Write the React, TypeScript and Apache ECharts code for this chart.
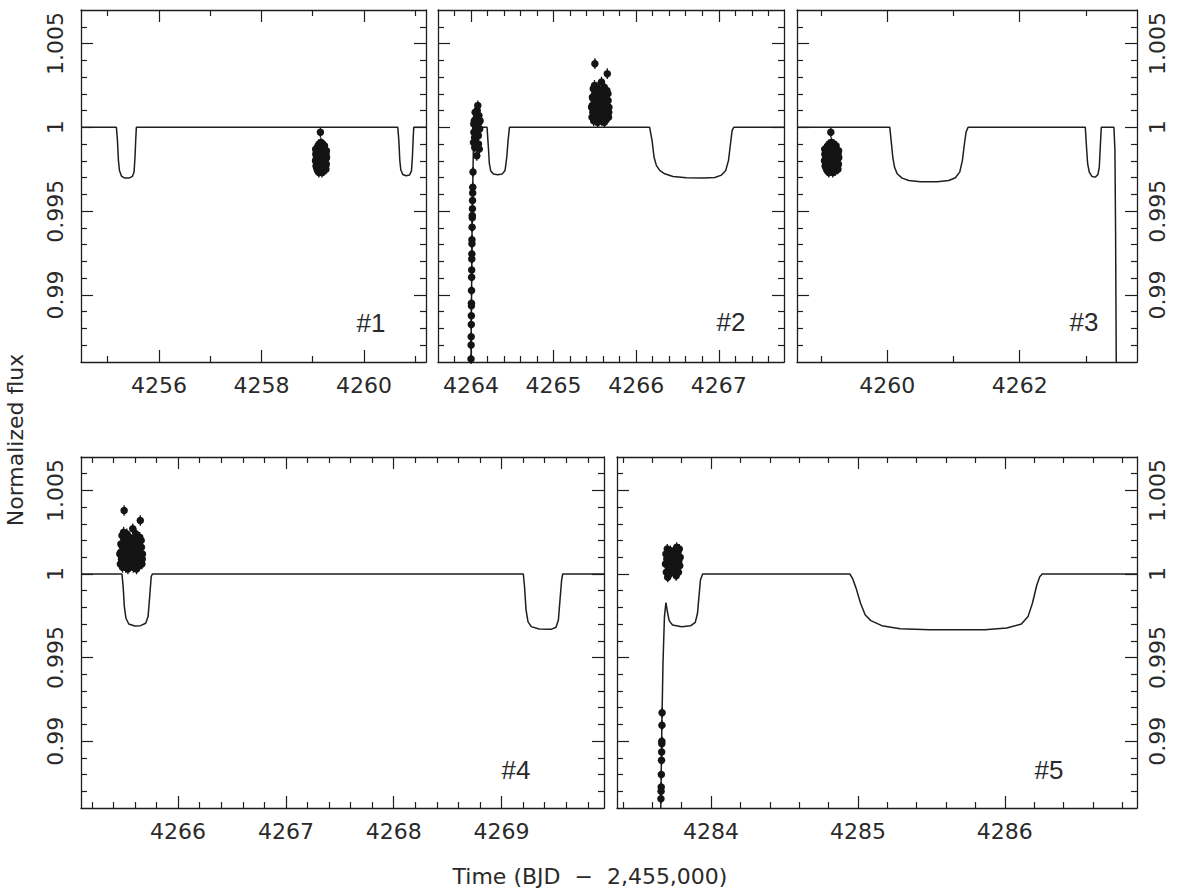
import { useEffect, useRef } from "react";
import * as echarts from "echarts";

// ---------- axis ticks ----------
const FLUX_MIN = 0.986;
const FLUX_MAX = 1.007;
const fluxMajorTicks = [0.99, 0.995, 1, 1.005];
const fluxMinorTicks = [0.987, 0.988, 0.989, 0.991, 0.992, 0.993, 0.994, 0.996, 0.997, 0.998, 0.999, 1.001, 1.002, 1.003, 1.004, 1.006];

const p1TimeTicks = [4256, 4258, 4260];
const p2TimeTicks = [4264, 4265, 4266, 4267];
const p3TimeTicks = [4260, 4262];
const p4TimeTicks = [4266, 4267, 4268, 4269];
const p5TimeTicks = [4284, 4285, 4286];

// ---------- model curves ----------
const model1Time = [4254.48, 4255.171, 4255.191, 4255.210, 4255.230, 4255.269, 4255.333, 4255.417, 4255.482, 4255.515, 4255.534, 4255.547, 4255.560, 4260.660, 4260.680, 4260.699, 4260.718, 4260.757, 4260.822, 4260.887, 4260.926, 4260.945, 4260.958, 4260.971, 4261.21];
const model1Flux = [1, 1, 0.99922, 0.99803, 0.99743, 0.99709, 0.99697, 0.99697, 0.99707, 0.99733, 0.99823, 0.99922, 1, 1, 0.99922, 0.99803, 0.99747, 0.99719, 0.99711, 0.99715, 0.99739, 0.99823, 0.99922, 1, 1];

const model2Time = [4263.9975, 4264.000, 4264.012, 4264.028, 4264.040, 4264.194, 4264.210, 4264.222, 4264.239, 4264.271, 4264.323, 4264.376, 4264.412, 4264.433, 4264.449, 4264.465, 4266.163, 4266.192, 4266.216, 4266.244, 4266.285, 4266.345, 4266.446, 4266.608, 4266.810, 4266.952, 4267.033, 4267.085, 4267.118, 4267.142, 4267.162, 4267.182, 4267.79];
const model2Flux = [0.984, 0.98602, 0.99365, 0.99863, 1, 1, 0.99882, 0.99783, 0.99739, 0.99721, 0.99717, 0.99721, 0.99743, 0.99823, 0.99922, 1, 1, 0.99922, 0.99823, 0.99773, 0.99743, 0.99723, 0.99707, 0.99699, 0.99697, 0.99701, 0.99715, 0.99743, 0.99803, 0.99902, 0.99982, 1, 1];

const model3Time = [4258.64, 4260.040, 4260.060, 4260.085, 4260.111, 4260.151, 4260.226, 4260.327, 4260.503, 4260.754, 4260.930, 4261.030, 4261.095, 4261.136, 4261.166, 4261.191, 4261.221, 4262.990, 4263.005, 4263.025, 4263.050, 4263.090, 4263.141, 4263.181, 4263.201, 4263.216, 4263.231, 4263.422, 4263.437, 4263.447, 4263.457, 4263.460];
const model3Flux = [1, 1, 0.99922, 0.99823, 0.99763, 0.99723, 0.99697, 0.99683, 0.99675, 0.99675, 0.99683, 0.99699, 0.99733, 0.99803, 0.99902, 0.99972, 1, 1, 0.99902, 0.99783, 0.99733, 0.99707, 0.99703, 0.99719, 0.99763, 0.99882, 1, 1, 0.99863, 0.99365, 0.98602, 0.984];

const model4Time = [4265.10, 4265.480, 4265.491, 4265.502, 4265.517, 4265.543, 4265.598, 4265.652, 4265.700, 4265.722, 4265.737, 4265.751, 4265.762, 4269.202, 4269.213, 4269.227, 4269.245, 4269.275, 4269.348, 4269.458, 4269.505, 4269.527, 4269.542, 4269.557, 4269.567, 4269.95];
const model4Flux = [1, 1, 0.99924, 0.99805, 0.99735, 0.99701, 0.99689, 0.99691, 0.99705, 0.99745, 0.99865, 0.99984, 1, 1, 0.99924, 0.99785, 0.99715, 0.99685, 0.99671, 0.99669, 0.99681, 0.99725, 0.99845, 0.99964, 1, 1];

const model5Time = [4283.655, 4283.658, 4283.665, 4283.673, 4283.683, 4283.693, 4283.703, 4283.715, 4283.738, 4283.800, 4283.863, 4283.893, 4283.908, 4283.918, 4283.928, 4283.943, 4284.945, 4284.963, 4284.988, 4285.018, 4285.050, 4285.088, 4285.163, 4285.288, 4285.488, 4285.863, 4286.013, 4286.113, 4286.158, 4286.188, 4286.218, 4286.238, 4286.255, 4286.90];
const model5Flux = [0.984, 0.98600, 0.99068, 0.99466, 0.99745, 0.99829, 0.99775, 0.99721, 0.99695, 0.99685, 0.99691, 0.99711, 0.99765, 0.99865, 0.99964, 1, 1, 0.99974, 0.99914, 0.99825, 0.99755, 0.99721, 0.99691, 0.99673, 0.99667, 0.99667, 0.99677, 0.99701, 0.99745, 0.99825, 0.99934, 0.99984, 1, 1];

// ---------- observations ----------
// cluster near 4259.2 (panels 1 and 3)
const obsATime = [4259.055, 4259.060, 4259.065, 4259.070, 4259.075, 4259.080, 4259.085, 4259.090, 4259.095, 4259.100, 4259.105, 4259.110, 4259.115, 4259.120, 4259.125, 4259.130, 4259.135, 4259.140, 4259.145, 4259.150, 4259.155, 4259.160, 4259.165, 4259.170, 4259.175, 4259.180, 4259.185, 4259.190, 4259.195, 4259.200, 4259.205, 4259.210, 4259.215, 4259.220, 4259.225, 4259.230, 4259.235, 4259.240, 4259.245, 4259.250, 4259.255, 4259.260, 4259.265, 4259.270,
  4259.058, 4259.068, 4259.078, 4259.088, 4259.098, 4259.108, 4259.118, 4259.128, 4259.138, 4259.148, 4259.158, 4259.168, 4259.178, 4259.188, 4259.198, 4259.208, 4259.218, 4259.228, 4259.238, 4259.248, 4259.258, 4259.268];
const obsAFlux = [0.9980, 0.9984, 0.9977, 0.9986, 0.9979, 0.9983, 0.9975, 0.9988, 0.9981, 0.9974, 0.9989, 0.9978, 0.9985, 0.9973, 0.9990, 0.9982, 0.9976, 0.9987, 0.9980, 0.9997, 0.9974, 0.9991, 0.9983, 0.9977, 0.9988, 0.9973, 0.9985, 0.9979, 0.9990, 0.9975, 0.9982, 0.9987, 0.9974, 0.9984, 0.9978, 0.9989, 0.9976, 0.9983, 0.9986, 0.9977, 0.9981, 0.9984, 0.9978, 0.9982,
  0.9987, 0.9981, 0.9976, 0.9983, 0.9986, 0.9980, 0.9982, 0.9978, 0.9984, 0.9979, 0.9986, 0.9981, 0.9984, 0.9976, 0.9982, 0.9979, 0.9988, 0.9981, 0.9979, 0.9984, 0.9975, 0.9986];
const obsAErr = 0.0003;

// cluster near 4265.55 (panels 2 and 4)
const obsBTime = [4265.460, 4265.465, 4265.470, 4265.475, 4265.480, 4265.485, 4265.490, 4265.495, 4265.500, 4265.505, 4265.510, 4265.515, 4265.520, 4265.525, 4265.530, 4265.535, 4265.540, 4265.545, 4265.550, 4265.555, 4265.560, 4265.565, 4265.570, 4265.575, 4265.580, 4265.585, 4265.590, 4265.595, 4265.600, 4265.605, 4265.610, 4265.615, 4265.620, 4265.625, 4265.630, 4265.635, 4265.640, 4265.645, 4265.650, 4265.655, 4265.660, 4265.665, 4265.670,
  4265.468, 4265.478, 4265.488, 4265.498, 4265.508, 4265.518, 4265.528, 4265.538, 4265.548, 4265.558, 4265.568, 4265.578, 4265.588, 4265.598, 4265.608, 4265.618, 4265.628, 4265.638, 4265.648, 4265.658, 4265.668];
const obsBFlux = [1.0012, 1.0006, 1.0018, 1.0009, 1.0023, 1.0004, 1.0014, 1.0025, 1.0038, 1.0008, 1.0019, 1.0004, 1.0015, 1.0024, 1.0010, 1.0003, 1.0017, 1.0007, 1.0022, 1.0012, 1.0005, 1.0019, 1.0009, 1.0014, 1.0027, 1.0004, 1.0021, 1.0011, 1.0006, 1.0018, 1.0024, 1.0003, 1.0013, 1.0020, 1.0008, 1.0015, 1.0005, 1.0022, 1.0032, 1.0010, 1.0016, 1.0006, 1.0012,
  1.0013, 1.0017, 1.0008, 1.0020, 1.0012, 1.0021, 1.0007, 1.0011, 1.0015, 1.0021, 1.0014, 1.0008, 1.0015, 1.0020, 1.0010, 1.0017, 1.0011, 1.0019, 1.0013, 1.0020, 1.0009];
const obsBErr = 0.00032;

// steep egress column at 4264.0 (panel 2)
const obsCTime = [4264.024, 4264.021, 4264.020, 4264.018, 4264.017, 4264.015, 4264.015, 4264.013, 4264.011, 4264.011, 4264.010, 4264.009, 4264.008, 4264.007, 4264.006, 4264.005, 4264.005, 4264.004, 4264.003, 4264.002, 4264.001, 4264.000];
const obsCFlux = [0.99733, 0.99643, 0.99608, 0.99564, 0.99514, 0.99474, 0.99460, 0.99404, 0.99329, 0.99305, 0.99245, 0.99215, 0.99149, 0.99106, 0.99026, 0.98950, 0.98936, 0.98876, 0.98823, 0.98751, 0.98701, 0.98618];
const obsCErr = 0.0003;

// post-egress points near 4264.07 (panel 2)
const obsDTime = [4264.030, 4264.035, 4264.040, 4264.045, 4264.050, 4264.055, 4264.060, 4264.065, 4264.070, 4264.075, 4264.080, 4264.082, 4264.085, 4264.090, 4264.095, 4264.100, 4264.105, 4264.110, 4264.033, 4264.043, 4264.053, 4264.063, 4264.073, 4264.088, 4264.098];
const obsDFlux = [0.9991, 0.9997, 1.0004, 0.9988, 1.0009, 0.9999, 0.9994, 1.0006, 0.9983, 1.0010, 0.9996, 1.0013, 1.0002, 0.9990, 1.0007, 0.9987, 0.9999, 1.0004, 1.0002, 0.9994, 1.0003, 0.9989, 1.0001, 0.9995, 1.0003];
const obsDErr = 0.0003;

// steep column at 4283.66 (panel 5)
const obsETime = [4283.667, 4283.666, 4283.665, 4283.665, 4283.664, 4283.663, 4283.662, 4283.661, 4283.660, 4283.659];
const obsEFlux = [0.99170, 0.99095, 0.99000, 0.98985, 0.98935, 0.98885, 0.98800, 0.98726, 0.98700, 0.98655];
const obsEErr = 0.0003;

// cluster near 4283.74 (panel 5)
const obsFTime = [4283.690, 4283.693, 4283.696, 4283.699, 4283.702, 4283.705, 4283.708, 4283.711, 4283.714, 4283.717, 4283.720, 4283.723, 4283.726, 4283.729, 4283.732, 4283.748, 4283.751, 4283.754, 4283.757, 4283.760, 4283.763, 4283.766, 4283.769, 4283.772, 4283.775, 4283.778, 4283.781, 4283.784, 4283.787, 4283.790];
const obsFFlux = [1.0006, 1.0012, 1.0001, 1.0009, 1.0015, 0.9998, 1.0010, 1.0004, 1.0013, 1.0000, 1.0008, 1.0014, 1.0003, 1.0011, 1.0006, 1.0009, 1.0002, 1.0014, 1.0006, 1.0011, 0.9999, 1.0016, 1.0004, 1.0010, 1.0013, 1.0001, 1.0008, 1.0015, 1.0005, 1.0010];
const obsFErr = 0.0003;

const obsA = { t: obsATime, f: obsAFlux, e: obsAErr };
const obsB = { t: obsBTime, f: obsBFlux, e: obsBErr };
const obsC = { t: obsCTime, f: obsCFlux, e: obsCErr };
const obsD = { t: obsDTime, f: obsDFlux, e: obsDErr };
const obsE = { t: obsETime, f: obsEFlux, e: obsEErr };
const obsF = { t: obsFTime, f: obsFFlux, e: obsFErr };

const panels = [
  { tag: "#1", left: 81, top: 10, width: 345, height: 352, tMin: 4254.48, tMax: 4261.21, major: p1TimeTicks, minorStep: 1, labelLeft: true, labelRight: false, model: [model1Time, model1Flux], sets: [obsA], tagX: 371, tagY: 323 },
  { tag: "#2", left: 438, top: 10, width: 346, height: 352, tMin: 4263.6, tMax: 4267.79, major: p2TimeTicks, minorStep: 0.2, labelLeft: false, labelRight: false, model: [model2Time, model2Flux], sets: [obsC, obsD, obsB], tagX: 731, tagY: 322 },
  { tag: "#3", left: 797, top: 10, width: 340, height: 352, tMin: 4258.64, tMax: 4263.77, major: p3TimeTicks, minorStep: 1, labelLeft: false, labelRight: true, model: [model3Time, model3Flux], sets: [obsA], tagX: 1084, tagY: 322 },
  { tag: "#4", left: 81, top: 457, width: 523, height: 351, tMin: 4265.10, tMax: 4269.95, major: p4TimeTicks, minorStep: 0.2, labelLeft: true, labelRight: false, model: [model4Time, model4Flux], sets: [obsB], tagX: 516, tagY: 770 },
  { tag: "#5", left: 617, top: 457, width: 520, height: 351, tMin: 4283.36, tMax: 4286.90, major: p5TimeTicks, minorStep: 0.2, labelLeft: false, labelRight: true, model: [model5Time, model5Flux], sets: [obsE, obsF], tagX: 1049, tagY: 770 },
];

function minorTicks(min: number, max: number, step: number, majors: number[]) {
  const out: number[] = [];
  const start = Math.ceil(min / step - 1e-9);
  const end = Math.floor(max / step + 1e-9);
  for (let k = start; k <= end; k++) {
    const v = Math.round(k * step * 1000) / 1000;
    if (v <= min + 1e-6 || v >= max - 1e-6) continue;
    if (majors.some((m) => Math.abs(m - v) < 1e-6)) continue;
    out.push(v);
  }
  return out;
}

const INK = "#1e1e1e";
const TEXT = "#2a2a2a";
const FONT = "DejaVu Sans";

function buildOption() {
  const grid: any[] = [];
  const xAxis: any[] = [];
  const yAxis: any[] = [];
  const series: any[] = [];
  const lineStyle = { color: INK, width: 1.3 };
  const tickStyle = { color: INK, width: 1.2 };
  const labelBase = { fontFamily: FONT, fontSize: 22, color: TEXT, formatter: (v: number) => String(v) };

  panels.forEach((p, gi) => {
    grid.push({ left: p.left, top: p.top, width: p.width, height: p.height });
    const xMinor = minorTicks(p.tMin, p.tMax, p.minorStep, p.major);
    const xBase = xAxis.length;
    const yBase = yAxis.length;

    const mkX = (position: string, major: boolean, showLabel: boolean) => ({
      gridIndex: gi, type: "value", position, min: p.tMin, max: p.tMax,
      axisLine: major ? { show: true, onZero: false, lineStyle } : { show: false },
      axisTick: { show: true, inside: true, length: major ? 12 : 6, customValues: major ? p.major : xMinor, lineStyle: tickStyle },
      axisLabel: { show: showLabel, customValues: major ? p.major : xMinor, margin: 12, ...labelBase },
      splitLine: { show: false },
    });
    xAxis.push(mkX("bottom", true, true));
    xAxis.push(mkX("bottom", false, false));
    xAxis.push(mkX("top", true, false));
    xAxis.push(mkX("top", false, false));

    const mkY = (position: string, major: boolean, showLabel: boolean) => ({
      gridIndex: gi, type: "value", position, min: FLUX_MIN, max: FLUX_MAX,
      axisLine: major ? { show: true, onZero: false, lineStyle } : { show: false },
      axisTick: { show: true, inside: true, length: major ? 12 : 6, customValues: major ? fluxMajorTicks : fluxMinorTicks, lineStyle: tickStyle },
      axisLabel: { show: showLabel, customValues: major ? fluxMajorTicks : fluxMinorTicks, rotate: 90, margin: position === "left" ? 15 : 9, ...labelBase },
      splitLine: { show: false },
    });
    yAxis.push(mkY("left", true, p.labelLeft));
    yAxis.push(mkY("left", false, false));
    yAxis.push(mkY("right", true, p.labelRight));
    yAxis.push(mkY("right", false, false));

    series.push({
      type: "line", xAxisIndex: xBase, yAxisIndex: yBase, showSymbol: false, symbol: "none",
      data: p.model[0].map((t, i) => [t, p.model[1][i]]),
      lineStyle: { color: INK, width: 1.5 }, clip: true, z: 2, silent: true,
    });

    p.sets.forEach((s) => {
      const pts = s.t.map((t, i) => [t, s.f[i], s.e]);
      series.push({
        type: "custom", xAxisIndex: xBase, yAxisIndex: yBase, data: pts, z: 3, silent: true,
        renderItem: (_params: any, api: any) => {
          const x = api.value(0), y = api.value(1), e = api.value(2);
          const a = api.coord([x, y - e]);
          const b = api.coord([x, y + e]);
          return { type: "line", shape: { x1: a[0], y1: a[1], x2: b[0], y2: b[1] }, style: { stroke: "#141414", lineWidth: 1.3 } };
        },
      });
      series.push({
        type: "scatter", xAxisIndex: xBase, yAxisIndex: yBase, data: pts.map((d) => [d[0], d[1]]),
        symbol: "circle", symbolSize: 7.5, itemStyle: { color: "#141414", opacity: 1 }, z: 4, silent: true,
      });
    });
  });

  const graphic: any[] = panels.map((p) => ({
    type: "text", x: p.tagX, y: p.tagY,
    style: { text: p.tag, fontFamily: "Liberation Sans", fontSize: 26, fill: TEXT, align: "center", verticalAlign: "middle" },
  }));
  graphic.push({
    type: "text", x: 590, y: 876,
    style: { text: "Time (BJD  \u2212  2,455,000)", fontFamily: FONT, fontSize: 22, fill: TEXT, align: "center", verticalAlign: "middle" },
  });
  graphic.push({
    type: "text", x: 15, y: 440, rotation: Math.PI / 2,
    style: { text: "Normalized flux", fontFamily: FONT, fontSize: 22, fill: TEXT, align: "center", verticalAlign: "middle" },
  });

  return { animation: false, backgroundColor: "#ffffff", grid, xAxis, yAxis, series, graphic };
}

export default function App() {
  const ref = useRef<HTMLDivElement>(null);
  useEffect(() => {
    if (!ref.current) return;
    const chart = echarts.init(ref.current, undefined, { renderer: "svg" });
    chart.setOption(buildOption() as any);
    return () => chart.dispose();
  }, []);
  return <div ref={ref} style={{ position: "absolute", left: 0, top: 0, width: 1181, height: 890 }} />;
}
